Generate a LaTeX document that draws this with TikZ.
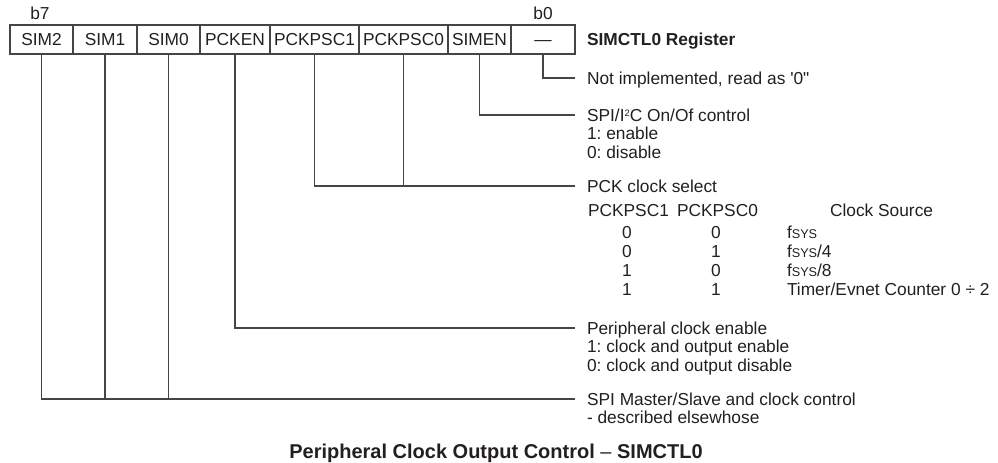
\documentclass[tikz,border=0pt]{standalone}
\usepackage{fontspec}
\setmainfont{Liberation Sans}
\frenchspacing
\definecolor{lineclr}{HTML}{454545}
\definecolor{txtclr}{HTML}{231F20}
\newcommand{\fsysx}{f{\fontsize{9.5}{9.5}\selectfont SYS}}
\begin{document}
\begin{tikzpicture}[x=0.75pt,y=-0.75pt,
  every node/.style={inner sep=0pt, outer sep=0pt, font=\fontsize{13}{13.9}\selectfont\frenchspacing, text=txtclr},
  cell/.style={draw=lineclr, line width=0.9pt, minimum height=21.75pt, text height=9.3pt, text depth=0pt},
  cellw/.style={minimum width=#1*0.75pt},
  conn/.style={draw=lineclr, line width=0.9pt},
  desc/.style={anchor=west, text height=9.3pt, text depth=0pt, outer xsep=9pt},
  sub/.style={anchor=west, text height=9.3pt, text depth=0pt},
  num/.style={anchor=center, text height=9.3pt, text depth=0pt},
]
\useasboundingbox (0,0) rectangle (998,463);

% register cells
\node[cell, cellw=63] (c7) at (41.5,39.5) {SIM2};
\node[cell, cellw=64] (c6) at (105,39.5) {SIM1};
\node[cell, cellw=63] (c5) at (168.5,39.5) {SIM0};
\node[cell, cellw=70] (c4) at (235,39.5) {PCKEN};
\node[cell, cellw=89] (c3) at (314.5,39.5) {PCKPSC1};
\node[cell, cellw=89] (c2) at (403.5,39.5) {PCKPSC0};
\node[cell, cellw=63] (c1) at (479.5,39.5) {SIMEN};
\node[cell, cellw=64] (c0) at (543,39.5) {—};

\node[num] (b7) at (40,13) {b7};
\node[num] (b0) at (543,13) {b0};

\node[sub] (regname) at (587,39.5) {\bfseries SIMCTL0 Register};

% descriptions
\node[desc] (d0) at (575,78) {Not implemented, read as \textquotesingle0\textquotedbl};

\node[desc] (d1) at (575,115) {SPI/I\raisebox{3.6pt}{\fontsize{7}{7}\selectfont 2}C On/Of control};
\node[sub] (d1a) at (587,133.5) {1: enable};
\node[sub] (d1b) at (587,152) {0: disable};

\node[desc] (d2) at (575,186) {PCK clock select};
\node[sub] (h1) at (588,210) {PCKPSC1};
\node[sub] (h2) at (677,210) {PCKPSC0};
\node[sub] (h3) at (830,210) {Clock Source};
\node[num] (r1a) at (627,232) {0};
\node[num] (r1b) at (716,232) {0};
\node[sub] (r1c) at (787,232) {\fsysx};
\node[num] (r2a) at (627,251) {0};
\node[num] (r2b) at (716,251) {1};
\node[sub] (r2c) at (787,251) {\fsysx/4};
\node[num] (r3a) at (627,270) {1};
\node[num] (r3b) at (716,270) {0};
\node[sub] (r3c) at (787,270) {\fsysx/8};
\node[num] (r4a) at (627,289) {1};
\node[num] (r4b) at (716,289) {1};
\node[sub] (r4c) at (787,289) {Timer/Evnet Counter 0 ÷ 2};

\node[desc] (d3) at (575,328) {Peripheral clock enable};
\node[sub] (d3a) at (587,346.5) {1: clock and output enable};
\node[sub] (d3b) at (587,365) {0: clock and output disable};

\node[desc] (d4) at (575,399) {SPI Master/Slave and clock control};
\node[sub] (d4a) at (587,417.5) {- described elsewhose};

\node[num, font=\fontsize{15}{15}\selectfont] (title) at (496,452) {\bfseries Peripheral Clock Output Control {\mdseries –} SIMCTL0};

% connectors
\draw[conn] (c0.south) |- (d0.west);
\draw[conn] (c1.south) |- (d1.west);
\draw[conn] (c3.south) |- (d2.west);
\draw[conn] (c2.south) -- (c2.south |- d2.west);
\draw[conn] (c4.south) |- (d3.west);
\draw[conn] (c7.south) |- (d4.west);
\draw[conn] (c6.south) -- (c6.south |- d4.west);
\draw[conn] (c5.south) -- (c5.south |- d4.west);
\end{tikzpicture}
\end{document}
